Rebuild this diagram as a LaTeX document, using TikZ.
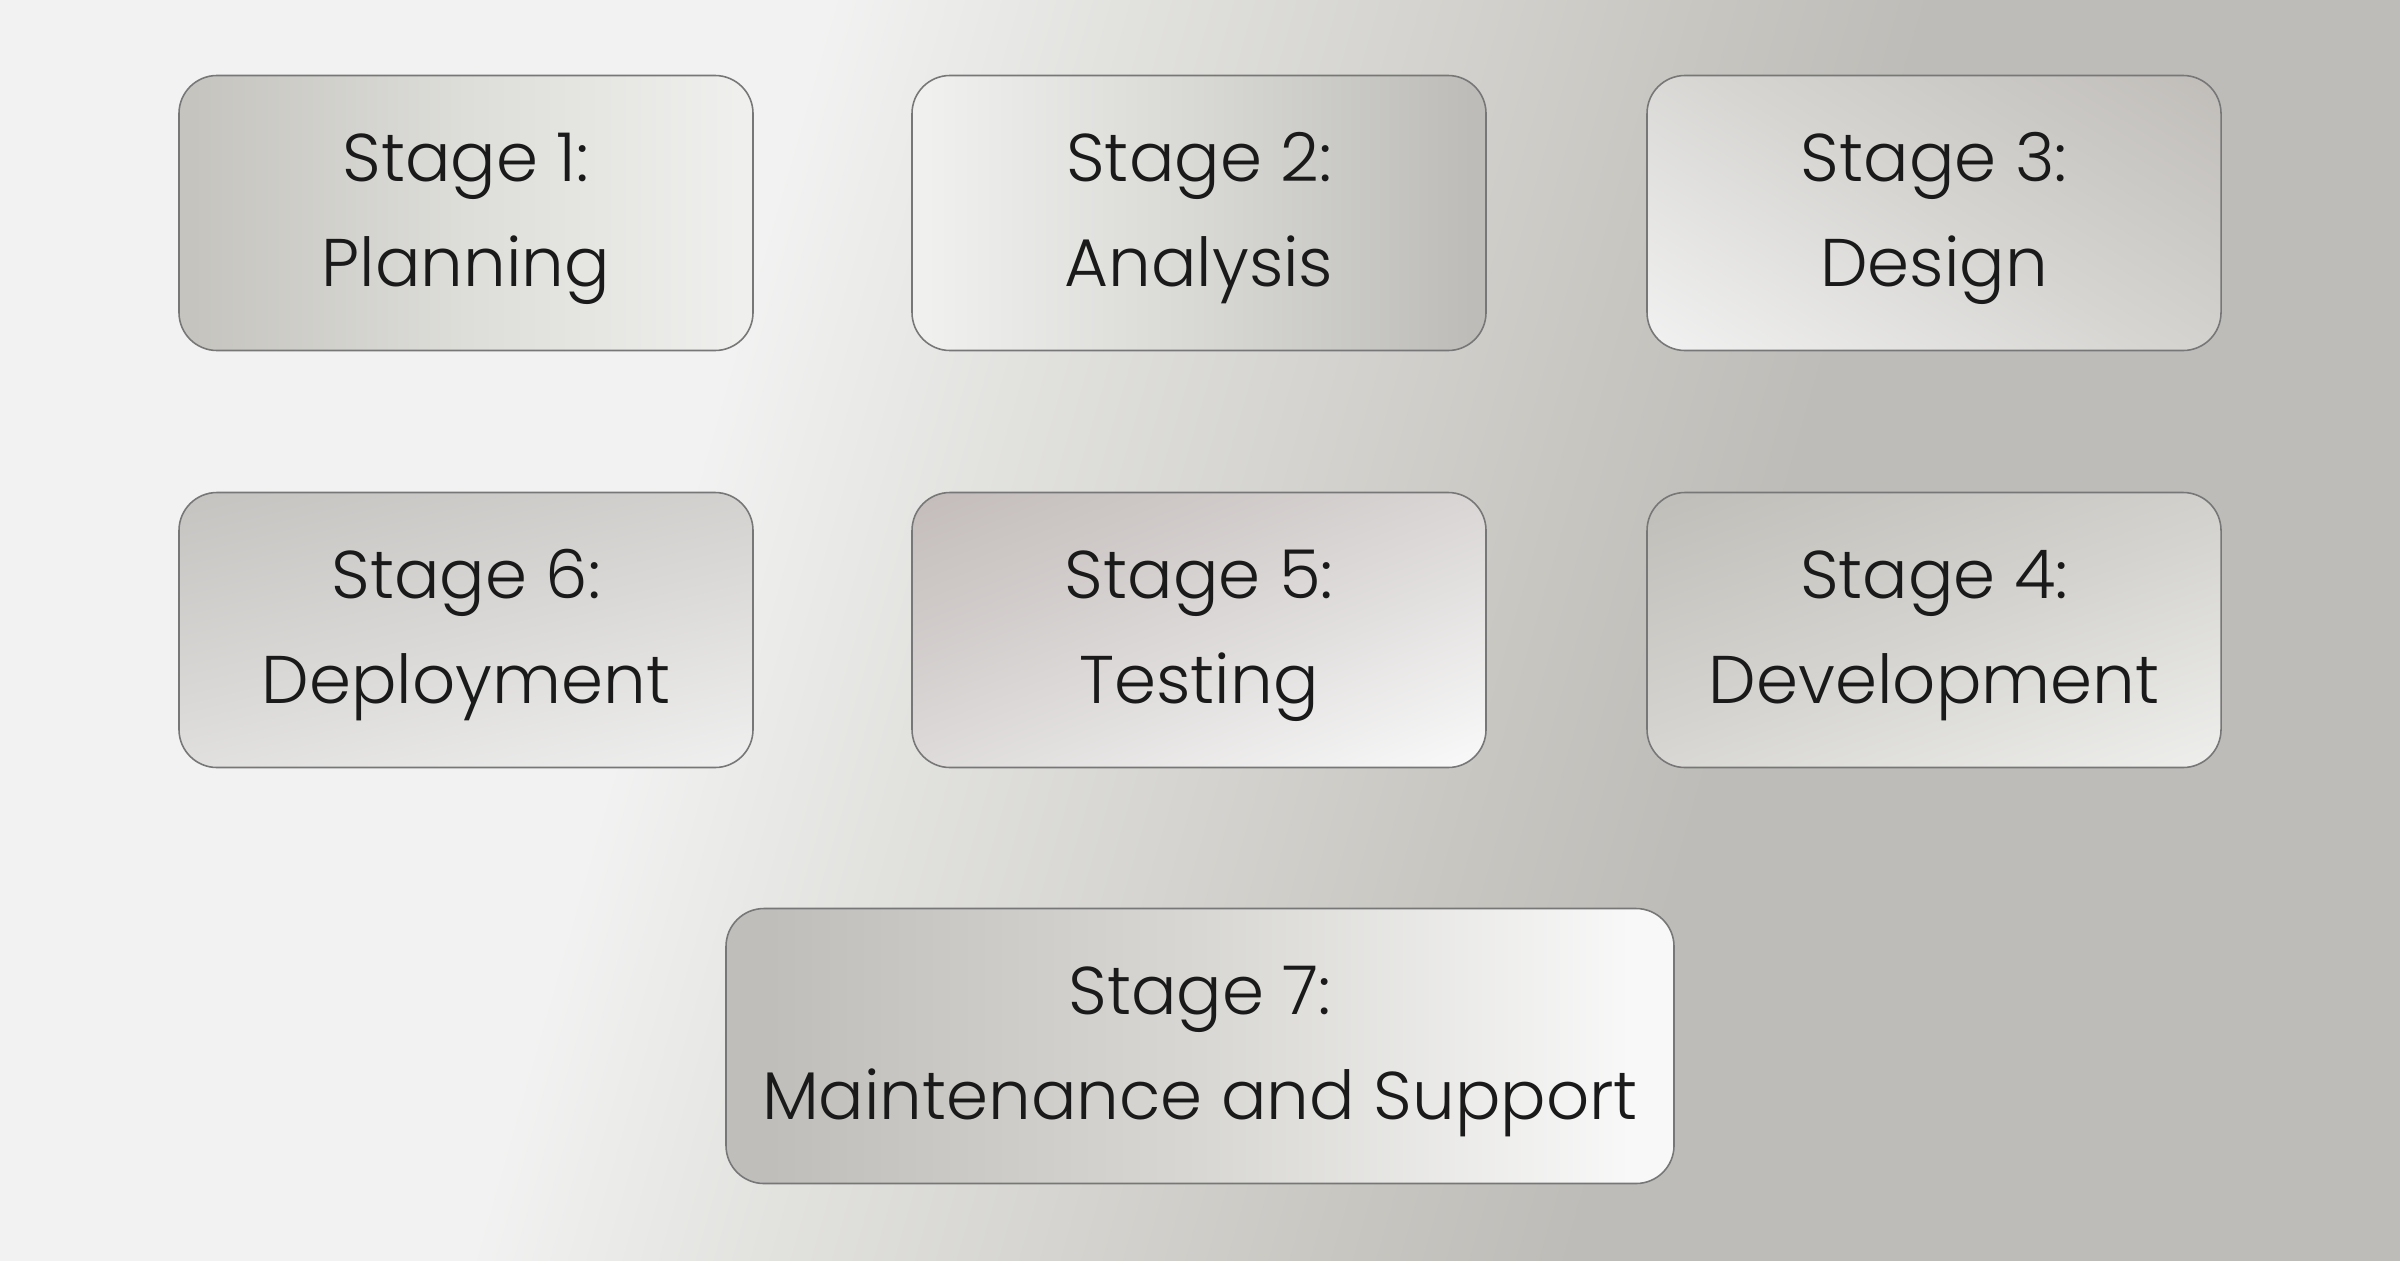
\documentclass[tikz,border=0pt]{standalone}
\usepackage{fontspec}
\setmainfont{Poppins}[UprightFont=* Light]
\definecolor{bgl}{HTML}{F2F2F2}
\definecolor{bgma}{HTML}{E2E2DF}
\definecolor{bgm}{HTML}{D5D4D0}
\definecolor{bgmb}{HTML}{C7C6C1}
\definecolor{bgd}{HTML}{BDBCB8}
\definecolor{boxline}{HTML}{777777}
\definecolor{txt}{HTML}{1A1A1A}
\colorlet{cA}{gray}\colorlet{cM}{gray}\colorlet{cB}{gray}
% box colours: A = dark end, M = middle, B = light end
\definecolor{oneA}{HTML}{C5C4BF}\definecolor{oneM}{HTML}{DDDDD9}\definecolor{oneB}{HTML}{EFEFED}
\definecolor{twoA}{HTML}{BDBCB8}\definecolor{twoM}{HTML}{D8D8D4}\definecolor{twoB}{HTML}{F0F0EF}
\definecolor{thrA}{HTML}{C0BDB9}\definecolor{thrM}{HTML}{D6D5D2}\definecolor{thrB}{HTML}{F2F2F2}
\definecolor{sixA}{HTML}{C3C1BE}\definecolor{sixM}{HTML}{D9D8D6}\definecolor{sixB}{HTML}{F2F2F2}
\definecolor{fivA}{HTML}{C4BDBB}\definecolor{fivM}{HTML}{DBD8D7}\definecolor{fivB}{HTML}{F8F8F8}
\definecolor{fouA}{HTML}{BFBEB9}\definecolor{fouM}{HTML}{D4D3CF}\definecolor{fouB}{HTML}{EEEEEC}
\definecolor{sevA}{HTML}{BFBEBA}\definecolor{sevM}{HTML}{D8D7D3}\definecolor{sevB}{HTML}{F8F8F8}
\pgfdeclarehorizontalshading{bgshade}{100bp}{color(0bp)=(bgl); color(40bp)=(bgl); color(45bp)=(bgma); color(50bp)=(bgm); color(55bp)=(bgmb); color(59bp)=(bgd); color(100bp)=(bgd)}
\pgfdeclareverticalshading[cA,cM,cB]{boxwide}{100bp}{color(0bp)=(cB); color(28bp)=(cB); color(50bp)=(cM); color(72bp)=(cA); color(100bp)=(cA)}
\pgfdeclareverticalshading[cA,cM,cB]{boxnarrow}{100bp}{color(0bp)=(cB); color(32bp)=(cB); color(50bp)=(cM); color(68bp)=(cA); color(100bp)=(cA)}
\newcommand\stagelines[2]{\begin{tabular}{@{}c@{}}#1\\#2\end{tabular}}
\tikzset{
  stagebox/.style={draw=boxline, line width=0.45pt, rounded corners=0.38cm,
    minimum width=5.74cm, minimum height=2.75cm, inner sep=0pt,
    text=txt, font=\fontsize{19.2}{29.9}\selectfont},
  dshade/.style n args={6}{path picture={\colorlet{cA}{#1}\colorlet{cM}{#2}\colorlet{cB}{#3}%
    \shade[shading=#6, shading angle=#4]
    ([shift={(-#5,-#5)}]path picture bounding box.center) rectangle ([shift={(#5,#5)}]path picture bounding box.center);}}
}
\begin{document}
\begin{tikzpicture}
\useasboundingbox (0,0) rectangle (24,12.6);
\begin{scope}
  \clip (0,0) rectangle (24,12.6);
  \shade[shading=bgshade, shading angle=-16] (-1.7,-7.7) rectangle (26.3,20.3);
\end{scope}
% row 1
\node[stagebox, dshade={oneB}{oneM}{oneA}{-90}{3.1}{boxwide}] (s1) at (4.66,10.47) {\stagelines{Stage 1:}{Planning}};
\node[stagebox, dshade={twoA}{twoM}{twoB}{-90}{3.1}{boxwide}] (s2) at (11.99,10.47) {\stagelines{Stage 2:}{Analysis}};
\node[stagebox, dshade={thrA}{thrM}{thrB}{-32}{3.1}{boxwide}] (s3) at (19.34,10.47) {\stagelines{Stage 3:}{Design}};
% row 2
\node[stagebox, dshade={sixA}{sixM}{sixB}{14}{3.1}{boxnarrow}] (s6) at (4.66,6.30) {\stagelines{Stage 6:}{Deployment}};
\node[stagebox, dshade={fivA}{fivM}{fivB}{22}{3.1}{boxnarrow}] (s5) at (11.99,6.30) {\stagelines{Stage 5:}{Testing}};
\node[stagebox, dshade={fouA}{fouM}{fouB}{20}{3.1}{boxnarrow}] (s4) at (19.34,6.30) {\stagelines{Stage 4:}{Development}};
% row 3
\node[stagebox, minimum width=9.48cm, dshade={sevB}{sevM}{sevA}{-90}{4.9}{boxwide}] (s7) at (12.0,2.14) {\stagelines{Stage 7:}{Maintenance and Support}};
\end{tikzpicture}
\end{document}
